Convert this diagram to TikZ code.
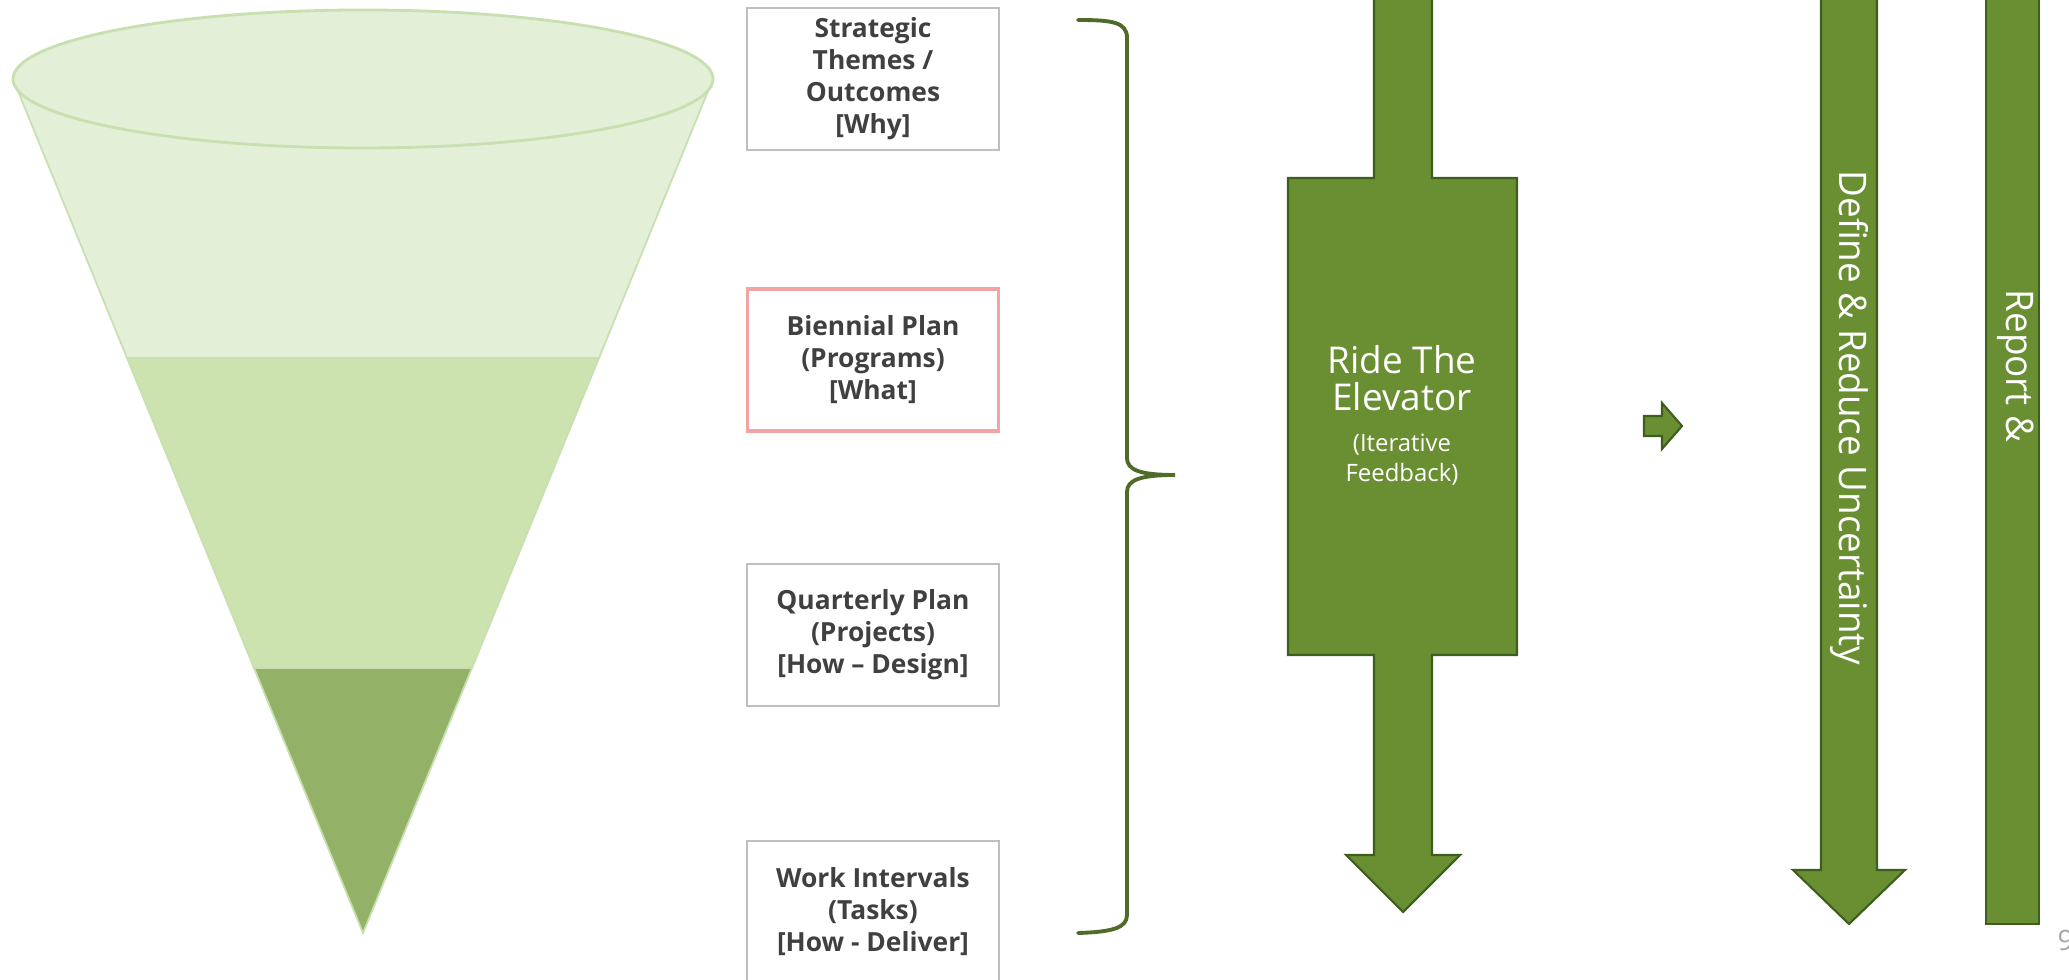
\documentclass[tikz,border=0pt]{standalone}
\usepackage{fontspec}
\setmainfont{Open Sans}
\newfontfamily\narrowfont[FakeStretch=0.97]{Open Sans}
\definecolor{funnelA}{HTML}{E4EFD7}
\definecolor{funnelB}{HTML}{CCE2AF}
\definecolor{funnelC}{HTML}{94B267}
\definecolor{funnelEdge}{HTML}{C8DFB0}
\definecolor{olive}{HTML}{6A8F32}
\definecolor{oliveDark}{HTML}{3E5E1E}
\definecolor{braceGreen}{HTML}{4F6B2A}
\definecolor{boxGray}{HTML}{BFBFBF}
\definecolor{boxPink}{HTML}{F2A3A3}
\definecolor{labelGray}{HTML}{404040}

\begin{document}
\begin{tikzpicture}[x=0.01cm,y=-0.01cm,
  planbox/.style={draw=boxGray,line width=0.6pt,minimum width=2.51cm,minimum height=1.42cm,
    align=center,text=labelGray,inner sep=2pt,font=\fontsize{7.5}{9.1}\selectfont\bfseries},
  bar/.style={fill=olive,draw=oliveDark,line width=0.6pt},
  barlabel/.style={text=white,align=center}]
\useasboundingbox (0,0) rectangle (2069,980);
\clip (0,0) rectangle (2069,980);
% funnel
\filldraw[fill=funnelA,draw=funnelEdge,line width=0.5pt] (13,79) -- (127,358) -- (599,358) -- (713,79) -- cycle;
\filldraw[fill=funnelA,draw=funnelEdge,line width=0.8pt] (363,79) ellipse (350 and 69);
\filldraw[fill=funnelB,draw=funnelEdge,line width=0.5pt] (127,358) -- (599,358) -- (472,668) -- (254,668) -- cycle;
\filldraw[fill=funnelC,draw=funnelEdge,line width=0.5pt] (254,668) -- (472,668) -- (363,933) -- cycle;
% plan levels
\node[planbox] (why) at (873,79) {Strategic\\Themes /\\Outcomes\\{[Why]}};
\node[planbox,draw=boxPink,line width=1pt] (what) at (873,360) {Biennial Plan\\(Programs)\\{[What]}};
\node[planbox] (design) at (873,635) {Quarterly Plan\\(Projects)\\{[How – Design]}};
\node[planbox] (deliver) at (873,912) {Work Intervals\\(Tasks)\\{[How - Deliver]}};
% brace
\draw[braceGreen,line width=1.1pt,line cap=round] (1078,20) .. controls (1112,20) and (1127,22) .. (1127,38)
  -- (1127,458) .. controls (1127,470) and (1140,475) .. (1175,475)
  .. controls (1140,475) and (1127,480) .. (1127,492)
  -- (1127,915) .. controls (1127,928) and (1112,932) .. (1078,933);
% elevator
\draw[bar] (1374,-5) -- (1374,178) -- (1288,178) -- (1288,655) -- (1374,655) -- (1374,855) -- (1346,855)
  -- (1403,912) -- (1460,855) -- (1432,855) -- (1432,655) -- (1517,655) -- (1517,178) -- (1432,178) -- (1432,-5) -- cycle;
\node[barlabel,font=\fontsize{10.5}{10.6}\selectfont] (ride) at (1402,378) {Ride The\\Elevator};
\node[barlabel,font=\fontsize{6.8}{8.5}\selectfont] (rideNote) at (1402,460) {(Iterative\\Feedback)};
% small arrow
\draw[bar] (1644,416) -- (1662,416) -- (1662,403) -- (1682,426) -- (1662,449) -- (1662,436) -- (1644,436) -- cycle;
% uncertainty arrow and report bar
\draw[bar] (1821,-5) -- (1821,870) -- (1793,870) -- (1849,924) -- (1905,870) -- (1877,870) -- (1877,-5) -- cycle;
\draw[bar] (1986,-5) rectangle (2039,924);
\node[barlabel,font=\narrowfont\fontsize{10.8}{13}\selectfont,rotate=-90] (define) at (1849,418) {Define \& Reduce Uncertainty};
\node[barlabel,font=\narrowfont\fontsize{10.8}{13}\selectfont,rotate=-90] (report) at (2016,366) {Report \&};
\node[text=gray!70,font=\fontsize{8}{9}\selectfont,anchor=west,inner sep=0pt] (pagenum) at (2057,940) {9};
\end{tikzpicture}
\end{document}
